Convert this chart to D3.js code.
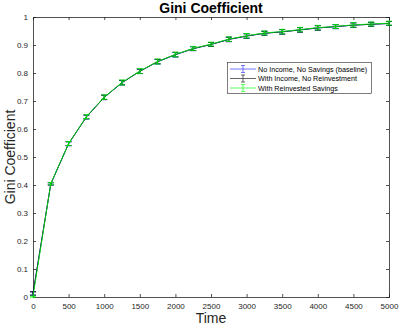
<!DOCTYPE html>
<html><head><meta charset="utf-8">
<script src="https://cdn.jsdelivr.net/npm/d3@7"></script>
<style>body{margin:0;background:#fff;font-family:"Liberation Sans",Arial,sans-serif}</style>
</head><body><svg id="c" width="399" height="329"></svg>
<script>
const times = [0,250,500,750,1000,1250,1500,1750,2000,2250,2500,2750,3000,3250,3500,3750,4000,4250,4500,4750,5000];
const baseline = [0.012,0.404,0.547,0.643,0.713,0.765,0.806,0.840,0.865,0.887,0.902,0.920,0.932,0.942,0.947,0.954,0.961,0.965,0.971,0.974,0.977];
const income   = [0.013,0.404,0.548,0.643,0.713,0.766,0.806,0.841,0.866,0.887,0.902,0.920,0.932,0.942,0.947,0.954,0.961,0.966,0.971,0.974,0.977];
const reinvest = [0.001,0.405,0.548,0.644,0.714,0.766,0.807,0.841,0.866,0.888,0.903,0.921,0.933,0.943,0.948,0.955,0.962,0.966,0.972,0.975,0.978];
const errBase = [0.006,0.004,0.007,0.007,0.008,0.008,0.008,0.008,0.008,0.007,0.007,0.008,0.008,0.007,0.008,0.008,0.008,0.007,0.008,0.007,0.007];
const errInc  = [0.006,0.004,0.007,0.007,0.008,0.008,0.008,0.008,0.008,0.007,0.007,0.008,0.008,0.007,0.008,0.008,0.008,0.007,0.008,0.007,0.007];
const errRe   = [0.002,0.004,0.007,0.007,0.008,0.009,0.009,0.009,0.008,0.007,0.007,0.008,0.008,0.007,0.008,0.008,0.008,0.007,0.008,0.007,0.007];
const xTicks = [0,500,1000,1500,2000,2500,3000,3500,4000,4500,5000];
const yTicks = [0,0.1,0.2,0.3,0.4,0.5,0.6,0.7,0.8,0.9,1];
const seriesNames = ["No Income, No Savings (baseline)","With Income, No Reinvestment","With Reinvested Savings"];
const seriesColors = ["#0000ff","#000000","#00ff00"];

const svg = d3.select("#c");
const L=33,R=389,T=17,B=297;
const x = d3.scaleLinear().domain([0,5000]).range([L,R]);
const y = d3.scaleLinear().domain([0,1]).range([B,T]);
const tc="#262626";

svg.append("rect").attr("x",L).attr("y",T).attr("width",R-L).attr("height",B-T).attr("fill","#fff");

const gx = svg.append("g").attr("transform",`translate(0,${B})`).call(d3.axisBottom(x).tickValues(xTicks).tickSize(-3).tickPadding(6).tickFormat(d3.format("d")));
const gxt = svg.append("g").attr("transform",`translate(0,${T})`).call(d3.axisTop(x).tickValues(xTicks).tickSize(-3).tickFormat(""));
const gy = svg.append("g").attr("transform",`translate(${L},0)`).call(d3.axisLeft(y).tickValues(yTicks).tickSize(-3).tickPadding(5).tickFormat(d=>d===0||d===1?String(d):d3.format(".1f")(d)));
const gyr = svg.append("g").attr("transform",`translate(${R},0)`).call(d3.axisRight(y).tickValues(yTicks).tickSize(-3).tickFormat(""));
[gx,gxt,gy,gyr].forEach(g=>{g.selectAll("path").attr("stroke",tc).attr("stroke-width",0.8);g.selectAll("line").attr("stroke",tc).attr("stroke-width",0.8);g.selectAll("text").attr("fill",tc).style("font-size","8px").style("font-family","Liberation Sans, Arial, sans-serif");});

const data=[baseline,income,reinvest], errs=[errBase,errInc,errRe];
const line = d3.line().x((d,i)=>x(times[i])).y(d=>y(d));
data.forEach((s,k)=>{
  const g=svg.append("g");
  g.append("path").datum(s).attr("d",line).attr("fill","none").attr("stroke",seriesColors[k]).attr("stroke-width",0.8);
  s.forEach((v,i)=>{
    const cx=x(times[i]), e=errs[k][i];
    const col=seriesColors[k];
    g.append("line").attr("x1",cx).attr("x2",cx).attr("y1",y(v-e)).attr("y2",y(v+e)).attr("stroke",col).attr("stroke-width",0.8);
    g.append("line").attr("x1",cx-3).attr("x2",cx+3).attr("y1",y(v-e)).attr("y2",y(v-e)).attr("stroke",col).attr("stroke-width",0.8);
    g.append("line").attr("x1",cx-3).attr("x2",cx+3).attr("y1",y(v+e)).attr("y2",y(v+e)).attr("stroke",col).attr("stroke-width",0.8);
  });
});

svg.append("text").attr("x",(L+R)/2).attr("y",13).attr("text-anchor","middle").style("font-size","14px").style("font-weight","bold").attr("fill","#000").text("Gini Coefficient");
svg.append("text").attr("x",(L+R)/2).attr("y",323).attr("text-anchor","middle").style("font-size","14px").attr("fill",tc).text("Time");
svg.append("text").attr("transform",`translate(15,${(T+B)/2}) rotate(-90)`).attr("text-anchor","middle").style("font-size","14px").attr("fill",tc).text("Gini Coefficient");

const lg=svg.append("g");
lg.append("rect").attr("x",227.5).attr("y",62.5).attr("width",144).attr("height",31).attr("fill","#fff").attr("stroke","#262626").attr("stroke-width",0.6);
const legColors=["#5050ff","#404040","#30ff30"];
seriesNames.forEach((n,k)=>{
  const yy=69+k*9.5;
  lg.append("line").attr("x1",230).attr("x2",256).attr("y1",yy).attr("y2",yy).attr("stroke",legColors[k]).attr("stroke-width",0.8);
  lg.append("line").attr("x1",243).attr("x2",243).attr("y1",yy-3.5).attr("y2",yy+3.5).attr("stroke",legColors[k]).attr("stroke-width",0.8);
  lg.append("line").attr("x1",241).attr("x2",245).attr("y1",yy-3.5).attr("y2",yy-3.5).attr("stroke",legColors[k]).attr("stroke-width",0.8);
  lg.append("line").attr("x1",241).attr("x2",245).attr("y1",yy+3.5).attr("y2",yy+3.5).attr("stroke",legColors[k]).attr("stroke-width",0.8);
  lg.append("text").attr("x",258).attr("y",yy+2.5).style("font-size","7.2px").attr("fill","#000").text(n);
});
</script></body></html>
